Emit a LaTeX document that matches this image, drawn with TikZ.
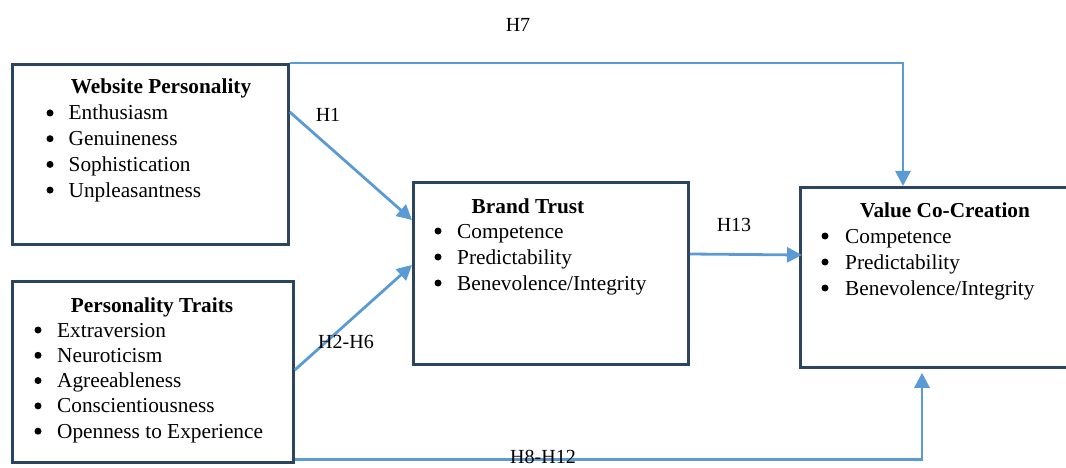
\documentclass[tikz,border=0pt]{standalone}
\usepackage{fontspec}
\setmainfont{Liberation Serif}
\usetikzlibrary{arrows.meta}
\definecolor{boxline}{HTML}{2B4560}
\definecolor{arrowblue}{HTML}{5B9BD5}
\tikzset{
  frame/.style={draw=boxline, line width=2.8pt, inner sep=0pt, anchor=north west},
  link/.style={draw=arrowblue, line width=2.8pt, -{Triangle[length=15pt,width=15pt]}},
  txt/.style={inner sep=0pt, anchor=base west, font=\fontsize{21.3}{25}\selectfont},
  ttl/.style={inner sep=0pt, anchor=base, font=\fontsize{21.3}{25}\selectfont\bfseries},
  bul/.style={circle, fill=black, inner sep=0pt, minimum size=7pt},
  hyp/.style={inner sep=0pt, anchor=base, font=\fontsize{20}{24}\selectfont},
}
\begin{document}
\begin{tikzpicture}[x=1pt,y=-1pt]
\useasboundingbox (0,0) rectangle (1066,468);
\clip (0,0) rectangle (1066,468);

% construct boxes
\node[frame, minimum width=276pt, minimum height=180pt] (wp)  at (11,63)  {};
\node[frame, minimum width=281pt, minimum height=181pt] (pt)  at (11,280) {};
\node[frame, minimum width=275pt, minimum height=182pt] (bt)  at (412,181) {};
\node[frame, minimum width=275pt, minimum height=180pt] (vcc) at (799,186) {};

% Website Personality
\node[ttl] (wp-t) at (161,94) {Website Personality};
\foreach \s [count=\i from 0] in {Enthusiasm,Genuineness,Sophistication,Unpleasantness}{
  \node[bul] (wp-b\i) at (50,113+25.7*\i) {};
  \node[txt] (wp-i\i) at (68.5,120+25.7*\i) {\s};
}

% Personality Traits
\node[ttl] (pt-t) at (152,312) {Personality Traits};
\foreach \s [count=\i from 0] in {Extraversion,Neuroticism,Agreeableness,Conscientiousness,Openness to Experience}{
  \node[bul] (pt-b\i) at (38,330+25.3*\i) {};
  \node[txt] (pt-i\i) at (57,337+25.3*\i) {\s};
}

% Brand Trust
\node[ttl] (bt-t) at (528,213) {Brand Trust};
\foreach \s [count=\i from 0] in {Competence,Predictability,Benevolence/Integrity}{
  \node[bul] (bt-b\i) at (438,231+26*\i) {};
  \node[txt] (bt-i\i) at (457,238+26*\i) {\s};
}

% Value Co-Creation
\node[ttl] (vcc-t) at (945,217) {Value Co-Creation};
\foreach \s [count=\i from 0] in {Competence,Predictability,Benevolence/Integrity}{
  \node[bul] (vcc-b\i) at (825,236+26*\i) {};
  \node[txt] (vcc-i\i) at (845,243+26*\i) {\s};
}

% hypothesised paths
\draw[link] (wp.north east) -| ([xshift=104pt]vcc.north west);
\draw[link] ([yshift=-49pt]wp.north east) -- ([yshift=-39pt]bt.north west);
\draw[link] ([yshift=-90pt]pt.north east) -- ([yshift=-84pt]bt.north west);
\draw[link] ([yshift=-73pt]bt.north east) -- ([xshift=3pt,yshift=-69pt]vcc.north west);
\draw[link] ([yshift=4pt]pt.south east) -| ([xshift=123pt,yshift=-4pt]vcc.south west);

% path labels
\node[hyp] (h7)  at (518,32)  {H7};
\node[hyp] (h1)  at (328,122) {H1};
\node[hyp] (h13) at (734,231) {H13};
\node[hyp] (h26) at (346,348) {H2-H6};
\node[hyp] (h812) at (543,463) {H8-H12};
\end{tikzpicture}
\end{document}
